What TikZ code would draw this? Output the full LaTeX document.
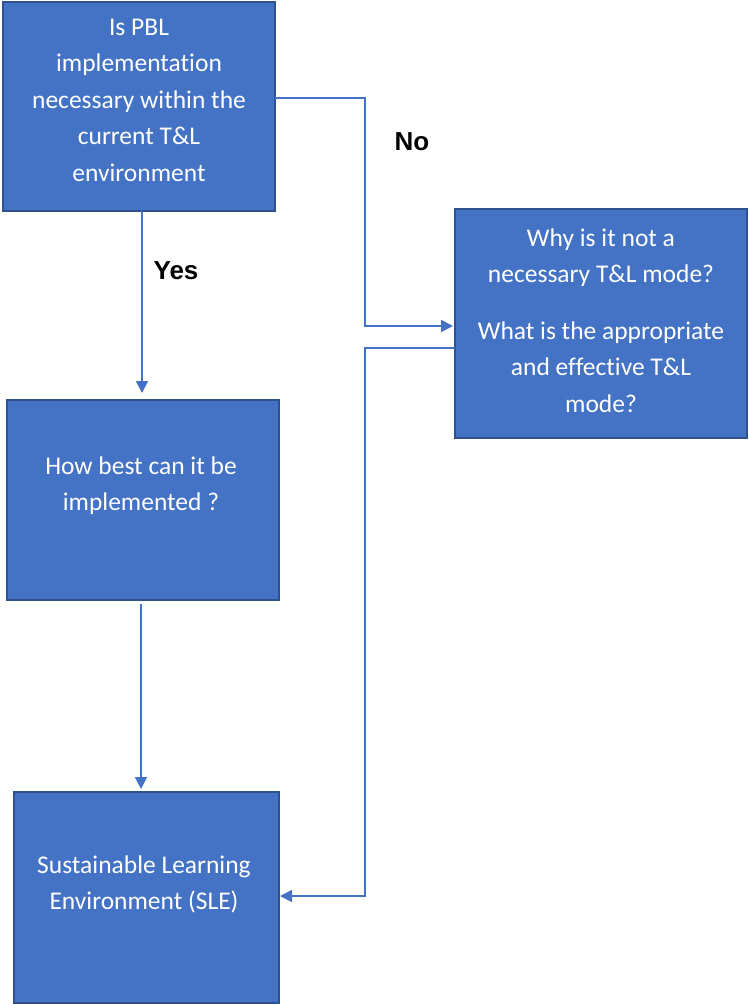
\documentclass[tikz,border=0pt]{standalone}
\usepackage{fontspec}
\setmainfont{Carlito}[RawFeature=-liga]
\newfontfamily\labfont{Liberation Sans}
\usetikzlibrary{arrows.meta}
\definecolor{boxfill}{HTML}{4472C4}
\definecolor{boxline}{HTML}{2F528F}
\definecolor{linkcol}{HTML}{4472C4}
\begin{document}
\begin{tikzpicture}[x=1pt,y=-1pt,
  box/.style={draw=boxline, line width=1.5pt, fill=boxfill, rectangle, inner sep=0pt, outer sep=0pt},
  boxtext/.style={text=white, align=center, font=\fontsize{25.5}{36.5}\selectfont},
  arr/.style={draw=linkcol, line width=1.8pt, -{Triangle[length=12pt,width=12pt]}},
  answer/.style={font=\labfont\bfseries\fontsize{26}{30}\selectfont, text=black}]
\useasboundingbox (0,0) rectangle (748,1005);

% boxes
\node[box, minimum width=272pt, minimum height=209pt] (b1) at (139,106.5) {};
\node[box, minimum width=272pt, minimum height=200pt] (b2) at (143,500) {};
\node[box, minimum width=265pt, minimum height=211pt] (b3) at (146.5,897.5) {};
\node[box, minimum width=292pt, minimum height=229pt] (b4) at (601,323.5) {};

% box texts
\node[boxtext] (t1) at (139,100) {Is PBL\\implementation\\necessary within the\\current T\&L\\environment};
\node[boxtext] (t2) at (141,485.5) {How best can it be\\implemented ?};
\node[boxtext] (t3) at (144,884.5) {Sustainable Learning\\Environment (SLE)};
\node[boxtext] (t4) at (601,320.5) {Why is it not a\\necessary T\&L mode?\\[20pt]What is the appropriate\\and effective T\&L\\mode?};

% answer labels
\node[answer] (yes) at (176,271) {Yes};
\node[answer] (no) at (412,142) {No};

% connectors
\draw[arr] ([xshift=3pt]b1.south) -- ([xshift=-1pt,yshift=7pt]b2.north);
\draw[arr] ([xshift=-2pt,yshift=-4pt]b2.south) -- ([xshift=-5.5pt,yshift=3pt]b3.north);
\draw[arr, shorten >=2pt] ([yshift=8.5pt]b1.east) -- ++(90,0) |- ([yshift=-2.5pt]b4.west);
\draw[arr, shorten >=1pt] ([yshift=-24.5pt]b4.west) -- ++(-90,0) |- ([yshift=1.5pt]b3.east);
\end{tikzpicture}
\end{document}
